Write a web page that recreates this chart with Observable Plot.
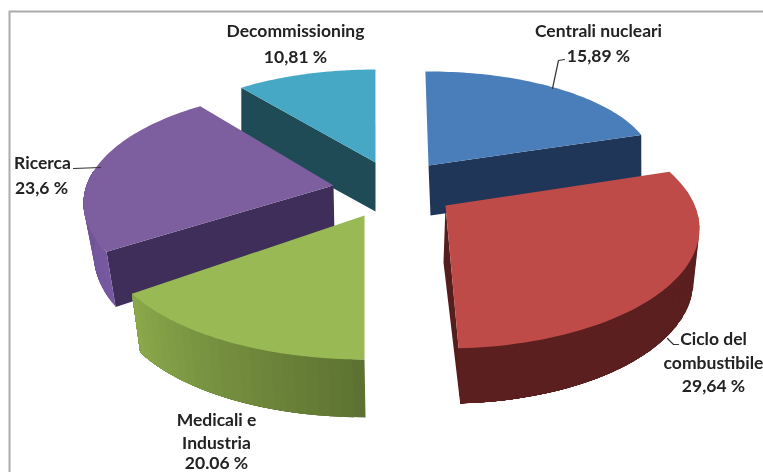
<!DOCTYPE html>
<html>
<head>
<meta charset="utf-8">
<script src="https://cdn.jsdelivr.net/npm/d3@7"></script>
<script src="https://cdn.jsdelivr.net/npm/@observablehq/plot@0.6"></script>
<style>html,body{margin:0;padding:0;background:#fff}svg{display:block;filter:blur(.45px)}</style>
</head>
<body>
<div id="chart"></div>
<script>
const categories = ["Centrali nucleari", "Ciclo del combustibile", "Medicali e Industria", "Ricerca", "Decommissioning"];
const shares = [15.89, 29.64, 20.06, 23.6, 10.81];
const labelLines = [
  ["Centrali nucleari", "15,89 %"],
  ["Ciclo del", "combustibile", "29,64 %"],
  ["Medicali e", "Industria", "20.06 %"],
  ["Ricerca", "23,6 %"],
  ["Decommissioning", "10,81 %"]
];

// Layout of each exploded slice: the reference's 3-D view skews its angles, so
// every slice has a start angle and a sweep factor applied to its share.
const layout = {
  "Centrali nucleari": {apex:[428,165], apexB:[430,215], top:[428,165,225,94], bot:[430,215,223,94], start:-0.8, warp:1.255,
    face:"end", colors:["#4a7ebb","#1f3659","#1f3659","#1f3659"], labelXY:[[598,31],[598,56]]},
  "Ciclo del combustibile": {apex:[445,205], apexB:[443,262], top:[445,228,254,120], bot:[447,281,246,122], start:61.8, warp:1.08,
    face:"end", side:[72,1], colors:["#be4b48","#551d1c","#5a1f1e","#5a1f1e"], labelXY:[[713,339],[713,363],[713,386]]},
  "Medicali e Industria": {apex:[364,215], apexB:[364,270], top:[364,240,260,119], bot:[365,299,252,118], start:180, warp:0.878,
    side:[0,1], colors:["#98b954","#5c7131","#5c7131","#8ba94b"], labelXY:[[216,420],[216,443],[216,463]]},
  "Ricerca": {apex:[333,185], apexB:[334,235], top:[333,203,250,115], bot:[333,252,240,130], start:245.2, warp:0.972,
    face:"start", side:[0,0.5], colors:["#7d5fa0","#3f2d5a","#7659a0","#6f5394"], labelXY:[[42,163],[41,188]]},
  "Decommissioning": {apex:[375,162], apexB:[375,211], top:[375,166,230,97], bot:[375,216,230,97], start:324.3, warp:0.917,
    face:"start", colors:["#46a8c4","#1f4b57","#1f4b57","#1f4b57"], labelXY:[[295,31],[295,57]]}
};
const drawOrder = ["Decommissioning", "Centrali nucleari", "Ricerca", "Ciclo del combustibile", "Medicali e Industria"];

const rad = Math.PI / 180;
const onEllipse = ([cx, cy, rx, ry], a) => [cx + rx * Math.sin(a * rad), cy - ry * Math.cos(a * rad)];
const polys = [];
let pid = 0;
function addPoly(points, color) {
  const id = pid++;
  for (const [x, y] of points) polys.push({id, x, y, color});
}
for (const name of drawOrder) {
  const L = layout[name];
  const a0 = L.start, a1 = a0 + shares[categories.indexOf(name)] * 3.6 * L.warp;
  const [cTop, cFace, cSide1, cSide2] = L.colors;
  if (L.face) {
    const a = L.face === "start" ? a0 : a1;
    addPoly([L.apex, onEllipse(L.top, a), onEllipse(L.bot, a), L.apexB], cFace);
  }
  if (L.side) {
    const from = L.side[0] === 0 ? a0 : L.side[0];
    const to = a0 + (a1 - a0) * L.side[1];
    const n = 24;
    const mix = d3.interpolateRgb(cSide1, cSide2);
    for (let i = 0; i < n; i++) {
      const p = from + (to - from) * i / n;
      // Each strip runs on to the end of the side, and later strips paint over it.
      const arcTop = d3.range(0, 9).map(j => onEllipse(L.top, p + (to - p) * j / 8));
      const arcBot = d3.range(8, -1, -1).map(j => onEllipse(L.bot, p + (to - p) * j / 8));
      addPoly([...arcTop, ...arcBot], mix((i + .5) / n));
    }
  }
  const arc = d3.range(0, 61).map(i => onEllipse(L.top, a0 + (a1 - a0) * i / 60));
  addPoly([L.apex, ...arc], cTop);
}

const labelRows = categories.flatMap(c => labelLines[categories.indexOf(c)].map((t, i) => ({t, x: layout[c].labelXY[i][0], y: layout[c].labelXY[i][1]})));
const leaders = [
  {k:"r", x:73, y:168}, {k:"r", x:100, y:167},
  {k:"c", x:552, y:88}, {k:"c", x:558, y:60}, {k:"c", x:564, y:59},
  {k:"f", x:667, y:338}, {k:"f", x:673, y:344}, {k:"f", x:678, y:344}
];
const frame = [{x:9, y:472}, {x:9, y:11}, {x:763, y:11}];

const plot = Plot.plot({
  width: 763, height: 472, margin: 0,
  x: {domain: [0, 763], range: [0, 763], axis: null},
  y: {domain: [0, 472], range: [0, 472], axis: null},
  color: {type: "identity"},
  style: {fontFamily: "Lato, sans-serif", background: "#fff"},
  marks: [
    Plot.line(frame, {x: "x", y: "y", stroke: "#ababab", strokeWidth: 2}),
    Plot.line(polys, {x: "x", y: "y", z: "id", fill: "color", stroke: "none", curve: "linear-closed"}),
    Plot.line(leaders, {x: "x", y: "y", z: "k", stroke: "#333", strokeWidth: 1.2}),
    Plot.text(labelRows, {x: "x", y: "y", text: "t", fontSize: 17.5, fontWeight: 700, fill: "#222", textAnchor: "middle", lineAnchor: "middle"})
  ]
});
document.getElementById("chart").append(plot);
</script>
</body>
</html>
